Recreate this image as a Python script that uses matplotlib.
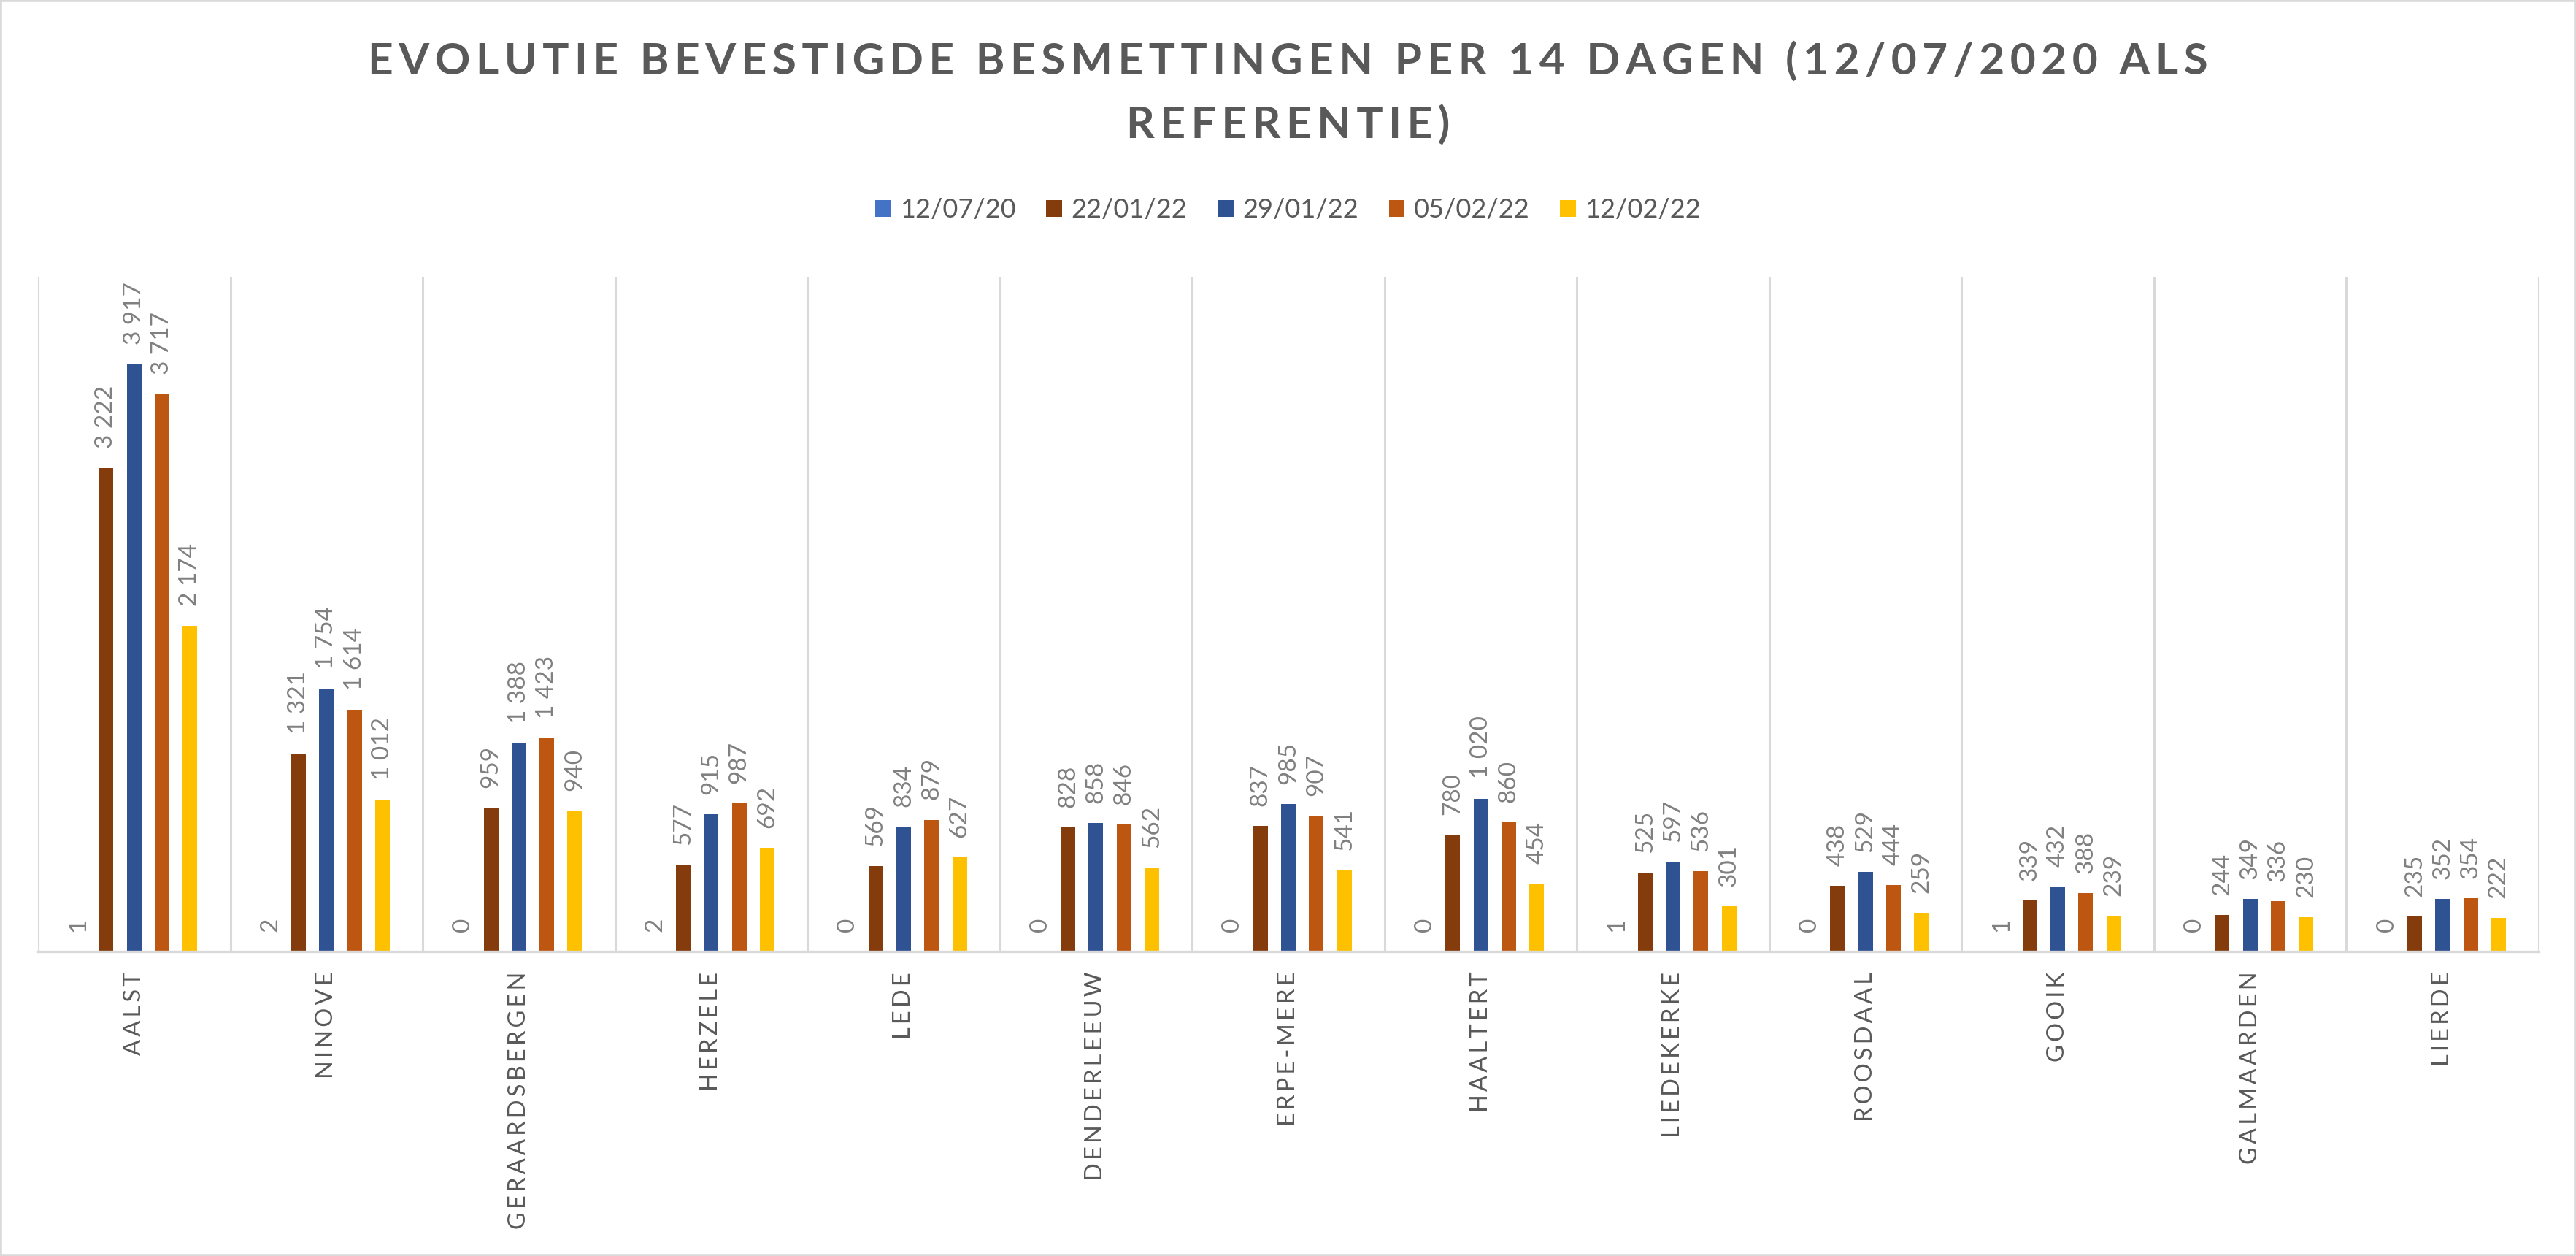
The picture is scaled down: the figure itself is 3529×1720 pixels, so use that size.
import matplotlib
matplotlib.use("Agg")
import matplotlib.pyplot as plt
import numpy as np
from matplotlib.patches import Rectangle, Patch

categories = ["AALST", "NINOVE", "GERAARDSBERGEN", "HERZELE", "LEDE", "DENDERLEEUW",
              "ERPE-MERE", "HAALTERT", "LIEDEKERKE", "ROOSDAAL", "GOOIK", "GALMAARDEN", "LIERDE"]
series_names = ["12/07/20", "22/01/22", "29/01/22", "05/02/22", "12/02/22"]
s_120720 = [1, 2, 0, 2, 0, 0, 0, 0, 1, 0, 1, 0, 0]
s_220122 = [3222, 1321, 959, 577, 569, 828, 837, 780, 525, 438, 339, 244, 235]
s_290122 = [3917, 1754, 1388, 915, 834, 858, 985, 1020, 597, 529, 432, 349, 352]
s_050222 = [3717, 1614, 1423, 987, 879, 846, 907, 860, 536, 444, 388, 336, 354]
s_120222 = [2174, 1012, 940, 692, 627, 562, 541, 454, 301, 259, 239, 230, 222]
series_values = [s_120720, s_220122, s_290122, s_050222, s_120222]
colors = ["#4472C4", "#843C0C", "#2E5292", "#BC5611", "#FFC000"]

title_lines = ["EVOLUTIE BEVESTIGDE BESMETTINGEN PER 14 DAGEN (12/07/2020 ALS", "REFERENTIE)"]

FONT = ["Lato", "DejaVu Sans"]
plt.rcParams["font.family"] = FONT

def spaced(s, sep="\u2009"):
    return sep.join(s)

fig = plt.figure(figsize=(35.29, 17.20), dpi=100)
ax = fig.add_axes([0.01474, 0.24244, 0.97081, 0.53721])

n = len(categories)
x = np.arange(n)
slot = 0.1454
width = 0.0759
for i, (name, vals, c) in enumerate(zip(series_names, series_values, colors)):
    pos = x + (i - 2) * slot
    ax.bar(pos, vals, width=width, color=c, label=name, zorder=3)
    for px, v in zip(pos, vals):
        ax.annotate(f"{v:,}".replace(",", " "), xy=(px, v), xytext=(0, 19.5),
                    textcoords="offset points", rotation=90, ha="center", va="bottom",
                    fontsize=24, color="#808080", family=FONT)

ax.set_xlim(-0.5, n - 0.5)
ax.set_ylim(0, 4500)
ax.set_yticks([])
for b in np.arange(-0.5, n, 1.0):
    ax.axvline(b, color="#D9D9D9", linewidth=2.2, zorder=1)
for sp in ["top", "left", "right"]:
    ax.spines[sp].set_visible(False)
ax.spines["bottom"].set_color("#D9D9D9")
ax.spines["bottom"].set_linewidth(2.4)
ax.spines["bottom"].set_zorder(4)
ax.set_xticks(x)
ax.set_xticklabels([spaced(c) for c in categories], rotation=90,
                   fontsize=23.5, color="#595959", family=FONT)
ax.tick_params(axis="x", length=0, pad=20)

fig.text(0.5, 0.951, spaced(title_lines[0]), ha="center", va="center",
         fontsize=43.5, fontweight="bold", color="#595959", family=FONT)
fig.text(0.5, 0.900, spaced(title_lines[1]), ha="center", va="center",
         fontsize=43.5, fontweight="bold", color="#595959", family=FONT)

handles = [Patch(facecolor=c, edgecolor="none") for c in colors]
leg = fig.legend(handles, series_names, loc="center", bbox_to_anchor=(0.5, 0.8326), ncol=5,
                 frameon=False, fontsize=26, handlelength=0.6, handleheight=0.6,
                 handletextpad=0.35, columnspacing=1.15, labelcolor="#595959")

fig.patches.append(Rectangle((0, 0), 1, 1, transform=fig.transFigure, fill=False,
                             edgecolor="#D9D9D9", linewidth=4, zorder=10))

fig.savefig("out.png", dpi=100, facecolor="white")
